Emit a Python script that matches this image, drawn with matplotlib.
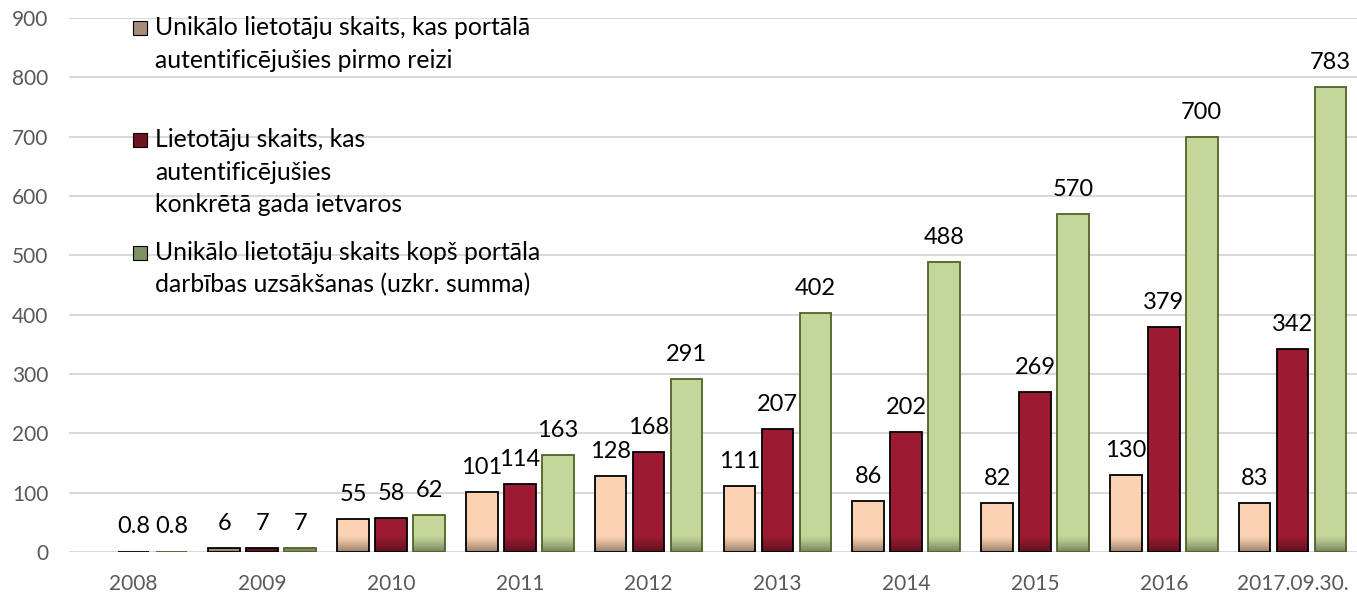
import numpy as np
import matplotlib
matplotlib.use('Agg')
import matplotlib.pyplot as plt
from matplotlib.patches import Rectangle

plt.rcParams['font.family'] = ['Lato', 'DejaVu Sans']

# data
categories = ['2008', '2009', '2010', '2011', '2012', '2013', '2014', '2015', '2016', '2017.09.30.']
first_time = [np.nan, 6, 55, 101, 128, 111, 86, 82, 130, 83]
per_year = [0.8, 7, 58, 114, 168, 207, 202, 269, 379, 342]
cumulative = [0.8, 7, 62, 163, 291, 402, 488, 570, 700, 783]

series_names = [['Unikālo lietotāju skaits, kas portālā', 'autentificējušies pirmo reizi'],
                ['Lietotāju skaits, kas', 'autentificējušies', 'konkrētā gada ietvaros'],
                ['Unikālo lietotāju skaits kopš portāla', 'darbības uzsākšanas (uzkr. summa)']]

fills = ['#FBD3B2', '#9C1B32', '#C4D79B']
edges = ['#000000', '#000000', '#4F6228']
legend_cols = ['#A38D7D', '#6E1422', '#7E9165']

fig = plt.figure(figsize=(13.57, 5.93), dpi=100)
ax = fig.add_axes([69/1357, 1 - 552/593, 1288/1357, (552 - 18)/593])

x = np.arange(len(categories))
width = 0.245
step = 0.295
grad_h = 28

# vertical shade at the bottom of each bar
shade = np.zeros((64, 1, 4))
shade[:, 0, 3] = np.linspace(0.0, 0.5, 64) ** 1.3

for i, (vals, fc, ec) in enumerate(zip([first_time, per_year, cumulative], fills, edges)):
    xs = x + (i - 1) * step
    bars = ax.bar(xs, vals, width=width, color=fc, edgecolor='none', zorder=2)
    for xc, b, v in zip(xs, bars, vals):
        if np.isnan(v):
            continue
        x0 = b.get_x()
        im = ax.imshow(shade, extent=[x0, x0 + width, 0, grad_h], aspect='auto',
                       origin='upper', zorder=3, interpolation='bilinear')
        im.set_clip_path(b)
        ax.add_patch(Rectangle((x0, 0), width, v, fill=False, edgecolor=ec,
                               linewidth=1.3, zorder=4))
        ax.annotate(f'{v:g}', (xc, v), xytext=(0, 13),
                    textcoords='offset points', ha='center', va='baseline',
                    fontsize=17, color='black', zorder=5)

ax.set_xlim(-0.5, len(categories) - 0.5)
ax.set_ylim(0, 900)
ax.set_yticks(range(0, 901, 100))
ax.set_xticks(x)
ax.set_xticklabels(categories)
ax.yaxis.grid(True, color='#D9D9D9', linewidth=1.5, zorder=0)
ax.set_axisbelow(True)
for s in ax.spines.values():
    s.set_visible(False)
ax.tick_params(axis='both', length=0, labelsize=15, labelcolor='#595959')
ax.tick_params(axis='y', pad=15)
ax.tick_params(axis='x', pad=16)

# legend, drawn by hand to keep Excel's uneven spacing
first_base = [35, 147, 260]
for lines, col, yb in zip(series_names, legend_cols, first_base):
    fig.patches.append(Rectangle((133/1357, 1 - yb/593), 14/1357, 14/593,
                                 transform=fig.transFigure, facecolor=col,
                                 edgecolor='black', linewidth=0.8, figure=fig))
    for k, line in enumerate(lines):
        fig.text(155/1357, 1 - (yb + 32.5 * k)/593, line, ha='left', va='baseline',
                 fontsize=17.8, color='black')

fig.savefig('out.png', dpi=100)
